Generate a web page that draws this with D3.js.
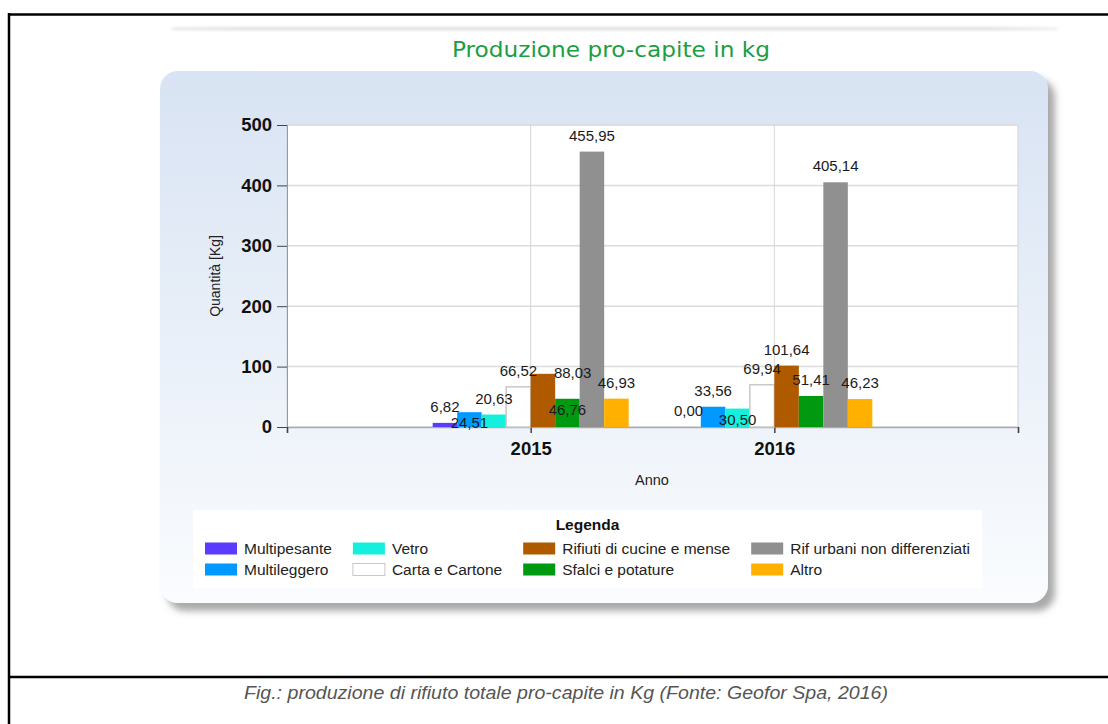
<!DOCTYPE html>
<html>
<head>
<meta charset="utf-8">
<script src="https://cdn.jsdelivr.net/npm/d3@7"></script>
<style>
  body { margin: 0; background: #fff; }
  svg { display: block; }
</style>
</head>
<body>
<svg id="chart" width="1108" height="724"></svg>
<script>
// dati
const years = ['2015', '2016']
const series = ['Multipesante', 'Multileggero', 'Vetro', 'Carta e Cartone',
  'Rifiuti di cucine e mense', 'Sfalci e potature', 'Rif urbani non differenziati', 'Altro']
const values2015 = [6.82, 24.51, 20.63, 66.52, 88.03, 46.76, 455.95, 46.93]
const values2016 = [0.00, 33.56, 30.50, 69.94, 101.64, 51.41, 405.14, 46.23]
const colors = ['#5b3bff', '#0099ff', '#14f0dc', '#ffffff', '#b05a00', '#00990f', '#909090', '#ffb000']
const yTicks = [0, 100, 200, 300, 400, 500]
// posizione etichette (smart labels del grafico originale)
const labelPlacement = [
  ['top', 'bottom', 'top', 'top', 'right', 'bottom', 'top', 'top'],
  ['top', 'top', 'bottom', 'top', 'top', 'top', 'top', 'top']
]
const allValues = [values2015, values2016]

const svg = d3.select('#chart')
const defs = svg.append('defs')

const grad = defs.append('linearGradient').attr('id', 'panelGrad')
  .attr('x1', 0).attr('y1', 0).attr('x2', 0).attr('y2', 1)
grad.append('stop').attr('offset', '0%').attr('stop-color', '#d8e3f3')
grad.append('stop').attr('offset', '100%').attr('stop-color', '#fafcfe')

const shadow = defs.append('filter').attr('id', 'shadow')
  .attr('x', '-5%').attr('y', '-5%').attr('width', '115%').attr('height', '115%')
shadow.append('feDropShadow').attr('dx', 7).attr('dy', 8).attr('stdDeviation', 3.5)
  .attr('flood-color', '#6f6f6f').attr('flood-opacity', 0.6)

const blur = defs.append('filter').attr('id', 'blur')
  .attr('x', '-5%').attr('y', '-200%').attr('width', '110%').attr('height', '500%')
blur.append('feGaussianBlur').attr('stdDeviation', 1.8)

const stripGrad = defs.append('linearGradient').attr('id', 'stripGrad')
stripGrad.append('stop').attr('offset', '0%').attr('stop-color', '#e4e4e4')
stripGrad.append('stop').attr('offset', '8%').attr('stop-color', '#d6d6d6')
stripGrad.append('stop').attr('offset', '92%').attr('stop-color', '#d6d6d6')
stripGrad.append('stop').attr('offset', '100%').attr('stop-color', '#ededed')

// cornice del documento
svg.append('line').attr('x1', 9).attr('x2', 1108).attr('y1', 14.5).attr('y2', 14.5)
  .attr('stroke', '#000').attr('stroke-width', 2.5)
svg.append('line').attr('x1', 9).attr('x2', 9).attr('y1', 13).attr('y2', 724)
  .attr('stroke', '#000').attr('stroke-width', 2.5)
svg.append('line').attr('x1', 9).attr('x2', 1108).attr('y1', 677).attr('y2', 677)
  .attr('stroke', '#000').attr('stroke-width', 2.5)

// ombra del pannello precedente
svg.append('rect').attr('x', 172).attr('y', 27.5).attr('width', 886).attr('height', 2.5)
  .attr('rx', 1).attr('fill', 'url(#stripGrad)').attr('filter', 'url(#blur)')

svg.append('text')
  .attr('x', 611).attr('y', 57)
  .attr('text-anchor', 'middle')
  .attr('font-family', 'DejaVu Sans Condensed, DejaVu Sans, sans-serif')
  .attr('font-size', 21)
  .attr('fill', '#1c9e42')
  .attr('textLength', 318).attr('lengthAdjust', 'spacingAndGlyphs')
  .text('Produzione pro-capite in kg')

// pannello
svg.append('rect').attr('x', 160).attr('y', 71).attr('width', 888).attr('height', 532)
  .attr('rx', 18).attr('fill', 'url(#panelGrad)').attr('filter', 'url(#shadow)')

const plotL = 287, plotR = 1018, plotT = 125, plotB = 427

const x0 = d3.scaleLinear().domain([0, years.length + 1]).range([plotL, plotR])
const x1 = d3.scaleBand().domain(series).range([-98, 98])
const y = d3.scaleLinear().domain([0, 500]).range([plotB, plotT])

svg.append('rect').attr('x', plotL).attr('y', plotT).attr('width', plotR - plotL).attr('height', plotB - plotT)
  .attr('fill', '#fff').attr('stroke', '#d0d4da')

// griglia
svg.append('g').selectAll('line').data(yTicks.slice(1)).join('line')
  .attr('x1', plotL).attr('x2', plotR)
  .attr('y1', d => y(d)).attr('y2', d => y(d))
  .attr('stroke', '#dcdcdc').attr('stroke-width', 1.5)
svg.append('g').selectAll('line').data(years).join('line')
  .attr('x1', (d, i) => x0(i + 1)).attr('x2', (d, i) => x0(i + 1))
  .attr('y1', plotT).attr('y2', plotB)
  .attr('stroke', '#d6d6d6').attr('stroke-width', 1)

// assi
const yAxis = svg.append('g').attr('transform', `translate(${plotL},0)`)
  .call(d3.axisLeft(y).tickValues(yTicks).tickSize(10).tickPadding(5))
yAxis.select('.domain').attr('stroke', '#999')
yAxis.selectAll('.tick line').attr('stroke', '#444')
yAxis.selectAll('.tick text')
  .attr('font-family', 'Liberation Sans, Arial, sans-serif')
  .attr('font-size', 18.5).attr('font-weight', 'bold').attr('fill', '#111')

const xAxis = svg.append('g').attr('transform', `translate(0,${plotB})`)
  .call(d3.axisBottom(x0).tickValues(d3.range(0, years.length + 2)).tickSize(6)
    .tickFormat(d => years[d - 1] || ''))
xAxis.select('.domain').attr('stroke', '#aaa').attr('stroke-width', 1.5)
xAxis.selectAll('.tick line').attr('stroke', '#444').attr('stroke-width', 1.5)
xAxis.selectAll('.tick text')
  .attr('dy', '1.05em')
  .attr('font-family', 'Liberation Sans, Arial, sans-serif')
  .attr('font-size', 18.5).attr('font-weight', 'bold').attr('fill', '#111')

svg.append('text')
  .attr('transform', 'translate(220,276) rotate(-90)')
  .attr('text-anchor', 'middle')
  .attr('font-family', 'Liberation Sans, Arial, sans-serif')
  .attr('font-size', 14).attr('fill', '#222')
  .text('Quantità [Kg]')

svg.append('text')
  .attr('x', 652).attr('y', 485)
  .attr('text-anchor', 'middle')
  .attr('font-family', 'Liberation Sans, Arial, sans-serif')
  .attr('font-size', 14.5).attr('fill', '#222')
  .text('Anno')

// barre
const fmt = d => d3.format('.2f')(d).replace('.', ',')
const points = []
years.forEach((yr, i) => {
  series.forEach((s, j) => {
    points.push({ year: yr, i, s, j, v: allValues[i][j], pos: labelPlacement[i][j] })
  })
})

const bx = d => x0(d.i + 1) + x1(d.s)
svg.append('g').selectAll('rect').data(points).join('rect')
  .attr('x', bx)
  .attr('y', d => y(d.v))
  .attr('width', x1.bandwidth())
  .attr('height', d => plotB - y(d.v))
  .attr('fill', d => colors[d.j])
  .attr('stroke', d => d.j === 3 ? '#c8c8c8' : 'none')
  .attr('stroke-width', 1.5)

svg.append('g').selectAll('text').data(points).join('text')
  .attr('x', d => {
    const c = bx(d) + x1.bandwidth() / 2
    return d.pos === 'right' ? c + 11 : c
  })
  .attr('y', d => {
    const t = y(d.v)
    if (d.pos === 'bottom') return t + 16
    if (d.pos === 'right') return t + 4
    return t - 11
  })
  .attr('text-anchor', d => d.pos === 'right' ? 'start' : 'middle')
  .attr('font-family', 'Liberation Sans, Arial, sans-serif')
  .attr('font-size', 15).attr('fill', '#1a1a1a')
  .text(d => fmt(d.v))

// legenda
const legX = 193, legY = 510, legW = 789, legH = 78
svg.append('rect').attr('x', legX).attr('y', legY).attr('width', legW).attr('height', legH)
  .attr('fill', '#fff')
svg.append('text')
  .attr('x', legX + legW / 2).attr('y', 530)
  .attr('text-anchor', 'middle')
  .attr('font-family', 'Liberation Sans, Arial, sans-serif')
  .attr('font-size', 15.5).attr('font-weight', 'bold').attr('fill', '#111')
  .text('Legenda')

const leg = svg.append('g')
const legFont = 15.5
const swW = 32, swH = 12, gapTxt = 7, gapCol = 21, rowY = [548.5, 569.5]
const cols = d3.range(0, series.length, 2).map(k => [k, k + 1])
let cx = 0
const colX = []
cols.forEach(c => {
  colX.push(cx)
  const widths = c.map(k => {
    const t = leg.append('text').attr('font-family', 'Liberation Sans, Arial, sans-serif')
      .attr('font-size', legFont).text(series[k])
    const w = t.node().getComputedTextLength()
    t.remove()
    return w
  })
  cx += swW + gapTxt + d3.max(widths) + gapCol
})
const totalW = cx - gapCol
const startX = legX + (legW - totalW) / 2
cols.forEach((c, ci) => {
  c.forEach((k, ri) => {
    const gx = startX + colX[ci]
    leg.append('rect')
      .attr('x', gx).attr('y', rowY[ri] - swH / 2)
      .attr('width', swW).attr('height', swH)
      .attr('fill', colors[k])
      .attr('stroke', k === 3 ? '#c8c8c8' : 'none')
    leg.append('text')
      .attr('x', gx + swW + gapTxt).attr('y', rowY[ri] + 5)
      .attr('font-family', 'Liberation Sans, Arial, sans-serif')
      .attr('font-size', legFont).attr('fill', '#222')
      .text(series[k])
  })
})

// didascalia
svg.append('text')
  .attr('x', 566).attr('y', 699)
  .attr('text-anchor', 'middle')
  .attr('font-family', 'Liberation Sans, Arial, sans-serif')
  .attr('font-size', 18).attr('font-style', 'italic').attr('fill', '#555')
  .attr('textLength', 644).attr('lengthAdjust', 'spacingAndGlyphs')
  .text('Fig.: produzione di rifiuto totale pro-capite in Kg (Fonte: Geofor Spa, 2016)')
</script>
</body>
</html>
